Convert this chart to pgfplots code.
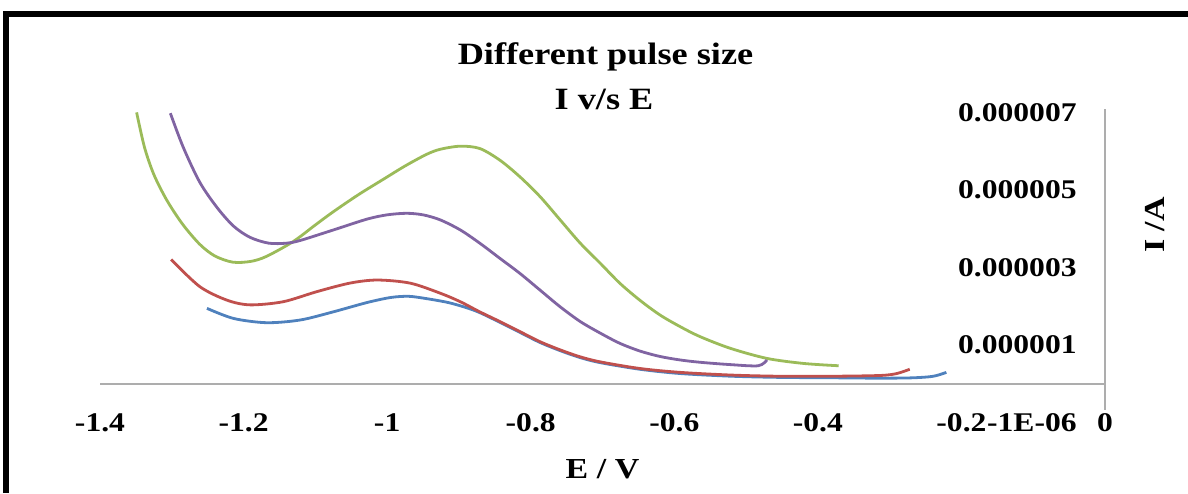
\documentclass[border=0pt]{standalone}
\usepackage{fontspec}
\setmainfont{Liberation Serif}[FakeStretch=1.17]
\usepackage{pgfplots}
\pgfplotsset{compat=1.18}
\definecolor{sBlue}{HTML}{4F81BD}
\definecolor{sRed}{HTML}{C0504D}
\definecolor{sGreen}{HTML}{9BBB59}
\definecolor{sPurple}{HTML}{8064A2}
\definecolor{axgray}{HTML}{ADADAD}
\newcommand\tickfont{\fontsize{13.5}{16}\selectfont\bfseries}
\begin{document}
\begin{tikzpicture}
\path[use as bounding box] (0,0) rectangle (594pt,246.5pt);
\draw[line width=3pt, line join=miter] (3pt,0) -- (3pt,239.5pt) -- (594pt,239.5pt);
\begin{axis}[
  at={(50pt,35.1pt)}, anchor=south west,
  scale only axis, width=502.5pt, height=155.2pt,
  xmin=-1.4, xmax=0, ymin=-1e-6, ymax=7e-6,
  clip=false,
  axis x line*=bottom, axis y line*=right,
  axis line style={draw=none},
  major tick length=0pt, tick style={draw=none},
  /pgf/number format/assume math mode=true,
  scaled x ticks=false, scaled y ticks=false,
  xtick={-1.4,-1.2,-1,-0.8,-0.6,-0.4,-0.2,0},
  xticklabels={-1.4,-1.2,-1,-0.8,-0.6,-0.4,-0.2,0},
  ytick={-1e-6,1e-6,3e-6,5e-6,7e-6},
  yticklabels={-1E-06,0.000001,0.000003,0.000005,0.000007},
  xticklabel style={font=\tickfont, anchor=base, yshift=-4.5pt, inner sep=0pt},
  yticklabel style={font=\tickfont, anchor=east, xshift=-14pt, inner sep=0pt},
]
\draw[axgray, line width=1pt] (axis cs:-1.4,0) -- (axis cs:0,0);
\draw[axgray, line width=1pt] (axis cs:0,-0.67e-6) -- (axis cs:0,7.1e-6);
% blue
\addplot[sBlue, line width=1.4pt, smooth, no marks] coordinates {
(-1.251,1.95e-6) (-1.214,1.69e-6) (-1.168,1.58e-6) (-1.121,1.65e-6) (-1.075,1.86e-6)
(-1.028,2.10e-6) (-0.995,2.23e-6) (-0.970,2.26e-6) (-0.945,2.20e-6) (-0.915,2.10e-6)
(-0.890,1.97e-6) (-0.871,1.84e-6) (-0.843,1.59e-6) (-0.815,1.33e-6) (-0.787,1.07e-6)
(-0.759,0.86e-6) (-0.731,0.68e-6) (-0.703,0.55e-6) (-0.648,0.38e-6) (-0.592,0.27e-6)
(-0.52,0.20e-6) (-0.453,0.17e-6) (-0.38,0.16e-6) (-0.313,0.15e-6) (-0.267,0.16e-6)
(-0.239,0.20e-6) (-0.221,0.30e-6)
};
% red
\addplot[sRed, line width=1.4pt, smooth, no marks] coordinates {
(-1.301,3.21e-6) (-1.261,2.51e-6) (-1.223,2.16e-6) (-1.191,2.04e-6) (-1.145,2.12e-6)
(-1.098,2.38e-6) (-1.052,2.60e-6) (-1.014,2.68e-6) (-0.968,2.60e-6) (-0.926,2.34e-6)
(-0.898,2.12e-6) (-0.871,1.86e-6) (-0.843,1.61e-6) (-0.815,1.35e-6) (-0.787,1.09e-6)
(-0.759,0.88e-6) (-0.731,0.70e-6) (-0.703,0.57e-6) (-0.648,0.40e-6) (-0.592,0.30e-6)
(-0.52,0.23e-6) (-0.453,0.20e-6) (-0.38,0.20e-6) (-0.313,0.22e-6)
(-0.29,0.27e-6) (-0.272,0.38e-6)
};
% green
\addplot[sGreen, line width=1.4pt, smooth, no marks] coordinates {
(-1.349,7.00e-6) (-1.338,6.10e-6) (-1.325,5.40e-6) (-1.307,4.74e-6) (-1.285,4.12e-6)
(-1.261,3.60e-6) (-1.240,3.30e-6) (-1.215,3.14e-6) (-1.190,3.16e-6) (-1.168,3.29e-6)
(-1.131,3.67e-6) (-1.100,4.10e-6) (-1.075,4.44e-6) (-1.040,4.88e-6) (-1.005,5.28e-6)
(-0.975,5.62e-6) (-0.945,5.92e-6) (-0.926,6.05e-6) (-0.898,6.13e-6) (-0.871,6.07e-6)
(-0.843,5.77e-6) (-0.815,5.34e-6) (-0.787,4.83e-6) (-0.759,4.23e-6) (-0.731,3.63e-6)
(-0.703,3.11e-6) (-0.676,2.60e-6) (-0.648,2.16e-6) (-0.620,1.78e-6) (-0.592,1.48e-6)
(-0.564,1.22e-6) (-0.522,0.92e-6) (-0.471,0.66e-6) (-0.420,0.53e-6) (-0.371,0.47e-6)
};
% purple
\addplot[sPurple, line width=1.4pt, smooth, no marks] coordinates {
(-1.302,6.98e-6) (-1.284,6.10e-6) (-1.261,5.20e-6) (-1.237,4.55e-6) (-1.214,4.07e-6)
(-1.191,3.78e-6) (-1.165,3.63e-6) (-1.140,3.63e-6) (-1.121,3.70e-6) (-1.075,3.97e-6)
(-1.028,4.25e-6) (-1.000,4.36e-6) (-0.973,4.40e-6) (-0.950,4.36e-6) (-0.926,4.23e-6)
(-0.898,3.97e-6) (-0.871,3.63e-6) (-0.843,3.24e-6) (-0.815,2.85e-6) (-0.787,2.42e-6)
(-0.759,1.99e-6) (-0.731,1.61e-6) (-0.703,1.31e-6) (-0.676,1.05e-6) (-0.648,0.85e-6)
(-0.620,0.71e-6) (-0.592,0.62e-6) (-0.564,0.56e-6) (-0.522,0.50e-6) (-0.483,0.47e-6)
(-0.471,0.62e-6)
};
\end{axis}
\node[anchor=base, font=\fontsize{15.5}{18}\selectfont\bfseries] at (302.75pt,214.35pt) {Different pulse size};
\node[anchor=base, font=\fontsize{15.5}{18}\selectfont\bfseries] at (302pt,191.5pt) {I v/s E};
\node[anchor=base, font=\fontsize{14.5}{17}\selectfont\bfseries] at (301.25pt,7.35pt) {E / V};
\node[rotate=90, anchor=center, font=\fontsize{14.5}{17}\selectfont\bfseries] at (577.5pt,134pt) {I /A};
\end{tikzpicture}
\end{document}
